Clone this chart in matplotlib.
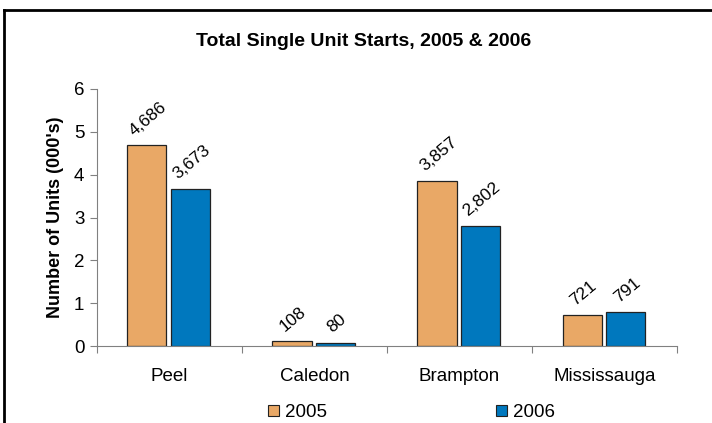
import matplotlib
matplotlib.use('Agg')
import matplotlib.pyplot as plt
from matplotlib.lines import Line2D
from matplotlib.patches import Patch
import numpy as np

plt.rcParams['font.family'] = ['Liberation Sans', 'DejaVu Sans']

regions = ['Peel', 'Caledon', 'Brampton', 'Mississauga']
starts_2005 = [4.686, 0.108, 3.857, 0.721]
starts_2006 = [3.673, 0.080, 2.802, 0.791]
labels_2005 = ['4,686', '108', '3,857', '721']
labels_2006 = ['3,673', '80', '2,802', '791']

orange = '#E9A866'
blue = '#0078BE'

fig = plt.figure(figsize=(7.12, 4.23), dpi=100)
ax = fig.add_axes([0.136, 0.182, 0.815, 0.6076])

x = np.arange(len(regions))
w = 0.27
b1 = ax.bar(x - 0.155, starts_2005, w, color=orange, edgecolor='#222222', linewidth=0.9)
b2 = ax.bar(x + 0.145, starts_2006, w, color=blue, edgecolor='#222222', linewidth=0.9)

# rotated value labels above the bars
for bars, labs in [(b1, labels_2005), (b2, labels_2006)]:
    for bar, lab in zip(bars, labs):
        ax.annotate(lab, (bar.get_x() + bar.get_width() / 2, bar.get_height()),
                    xytext=(1, 5), textcoords='offset points',
                    ha='center', va='bottom', rotation=40, fontsize=12.5)

ax.set_xlim(-0.5, len(regions) - 0.5)
ax.set_ylim(0, 6)
ax.set_yticks(range(7))
ax.set_xticks(np.arange(len(regions) + 1) - 0.5)
ax.set_xticklabels([])
ax.set_xticks(x, minor=True)
ax.set_xticklabels(regions, minor=True)
ax.tick_params(axis='x', which='minor', length=0, pad=16, labelsize=13.5)
ax.tick_params(axis='x', which='major', length=5, color='#808080')
ax.tick_params(axis='y', length=5, color='#808080', labelsize=13.5, pad=4)
for s in ['top', 'right']:
    ax.spines[s].set_visible(False)
for s in ['left', 'bottom']:
    ax.spines[s].set_color('#808080')

ax.set_ylabel("Number of Units (000's)", fontsize=13, fontweight='bold', labelpad=7)
fig.text(0.511, 1 - 45.5 / 423, 'Total Single Unit Starts, 2005 & 2006', ha='center',
         va='baseline', fontsize=14, fontweight='bold')

handles = [Patch(facecolor=orange, edgecolor='#222222', linewidth=0.8),
           Patch(facecolor=blue, edgecolor='#222222', linewidth=0.8)]
fig.legend(handles, ['2005', '2006'], loc='center', bbox_to_anchor=(0.578, 0.025),
           ncol=2, frameon=False, fontsize=13.5, handlelength=0.57, handleheight=0.57,
           handletextpad=0.32, columnspacing=9.0, borderpad=0)

# outer chart border (cropped on the right and bottom)
fig.add_artist(Line2D([4 / 712, 1], [1 - 10 / 423, 1 - 10 / 423], color='black', linewidth=2,
                      transform=fig.transFigure))
fig.add_artist(Line2D([4 / 712, 4 / 712], [0, 1 - 10 / 423], color='black', linewidth=2,
                      transform=fig.transFigure))

fig.savefig('out.png', dpi=100)
